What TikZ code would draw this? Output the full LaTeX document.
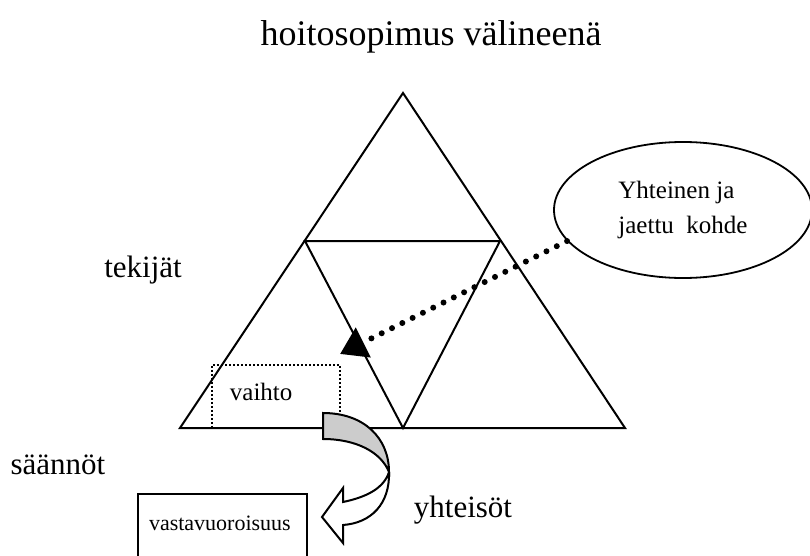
\documentclass[tikz,border=0pt]{standalone}
\usepackage{fontspec}
\setmainfont{Liberation Serif}
\usepackage{tikz}
\usetikzlibrary{arrows.meta,positioning,shapes.geometric}
\definecolor{band}{HTML}{CCCCCC}

\begin{document}
\begin{tikzpicture}[x=1pt,y=-1pt,
  big/.style={font=\fontsize{31}{36}\selectfont},
  small/.style={font=\fontsize{25}{35}\selectfont},
  edge/.style={line width=2pt,line join=miter},
  dots/.style={line width=6pt,line cap=round,dash pattern=on 0pt off 11.5pt,-{Triangle[length=26pt,width=32pt]}},
  dotbox/.style={draw,line width=1.8pt,dash pattern=on 2pt off 2pt},
  curl/.style={line width=2pt,line join=miter}
]
\useasboundingbox (0,0) rectangle (810,556);
\clip (0,0) rectangle (810,556);
% kolmiot
\coordinate (top) at (403,93);
\coordinate (bl) at (180,428);
\coordinate (br) at (625,428);
\coordinate (il) at (305,241);
\coordinate (ir) at (500,241);
\coordinate (ib) at (403,428);
\draw[edge] (top) -- (bl) -- (br) -- cycle;
\draw[edge] (il) -- (ir) -- (ib) -- cycle;
% tekstit
\node[font=\fontsize{36}{40}\selectfont] (title) at (431,37) {hoitosopimus välineenä};
\node[big] (tekijat) at (143,270) {tekijät};
\node[big] (saannot) at (58,465) {säännöt};
\node[big] (yhteisot) at (463,510) {yhteisöt};
% kohde
\node[ellipse,draw,line width=1.8pt,minimum width=258pt,minimum height=136pt,small,align=left] (kohde) at (683,210) {Yhteinen ja\\jaettu\ \ kohde};
\coordinate (tip) at (340,354);
\draw[dots] (kohde.195) -- (tip);
% vaihto
\node[dotbox,small,anchor=north west,minimum height=63pt,text width=92pt,align=left,inner xsep=18pt,text depth=10pt] (vaihto) at (211,364) {vaihto};
% vastavuoroisuus
\node[draw,edge,font=\fontsize{22}{26}\selectfont,anchor=base west,text width=147pt,align=left,inner xsep=11pt,inner ysep=0pt,text height=36pt,text depth=60pt] (vastavuoro) at (137,530) {vastavuoroisuus};
% kaareva nuoli
\coordinate (a) at (323,413);
\coordinate (b) at (323,439);
\coordinate (p) at (389,472);
\coordinate (c) at (343,525);
\coordinate (d) at (343,543);
\coordinate (e) at (322,517);
\coordinate (f) at (343,488);
\coordinate (g) at (343,502);
\filldraw[curl,fill=band] (a) .. controls (364,413) and (389,438) .. (p) .. controls (381,452) and (356,439) .. (b) -- cycle;
\filldraw[curl,fill=white] (p) .. controls (390,504) and (371,523) .. (c) -- (d) -- (e) -- (f) -- (g) .. controls (367,497) and (384,488) .. (p);
\end{tikzpicture}
\end{document}
